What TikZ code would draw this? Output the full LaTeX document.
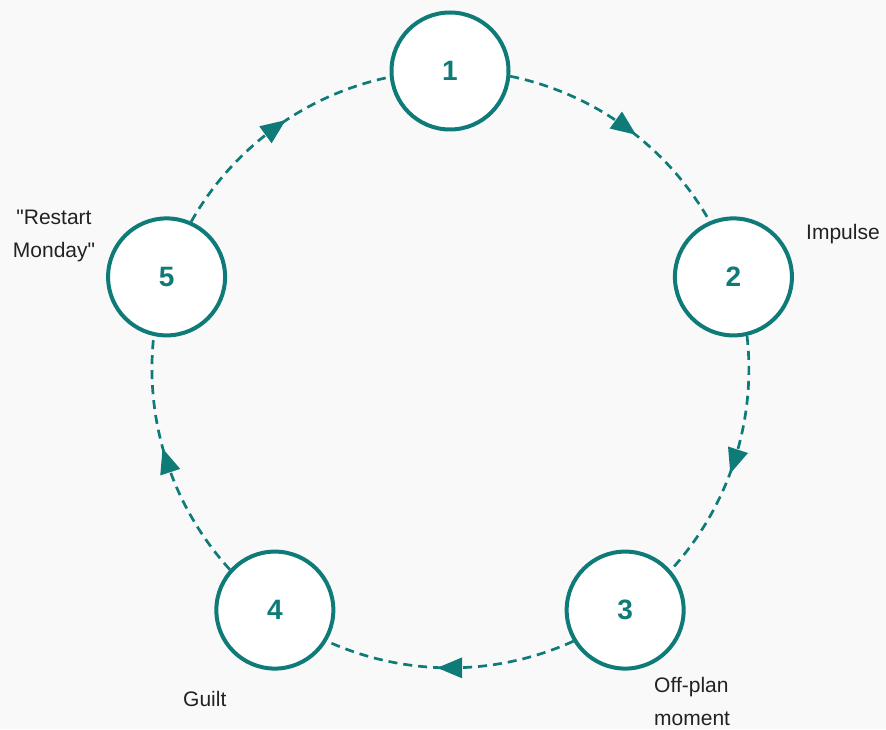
\documentclass[tikz,border=0pt]{standalone}
\usepackage{fontspec}
\setmainfont{Liberation Sans}
\newfontfamily\qfont{Liberation Sans}[Ligatures=TeXReset]
\usetikzlibrary{decorations.markings}
\definecolor{teal1}{HTML}{0F7B78}
\definecolor{bgc}{HTML}{F9F9F9}
\definecolor{txt}{HTML}{222222}
\newcommand{\sq}{{\qfont\symbol{34}}}
\tikzset{
  stage/.style={circle, draw=teal1, line width=4pt, fill=white, minimum size=117pt, inner sep=0pt,
    font=\fontsize{28}{30}\selectfont\bfseries, text=teal1},
  lbl/.style={inner sep=0pt, font=\fontsize{21}{33}\selectfont, text=txt},
  flow/.style={draw=teal1, line width=2.7pt, dash pattern=on 9pt off 6pt,
    postaction={decorate, decoration={markings, mark=at position 0.5 with {\fill[teal1] (13pt,0pt) -- (-12pt,10.5pt) -- (-12pt,-10.5pt) -- cycle;}}}}
}
\begin{document}
\begin{tikzpicture}[x=1pt,y=1pt]
\fill[bgc] (0,0) rectangle (886,729);
\useasboundingbox (0,0) rectangle (886,729);
\coordinate (c) at (450,360);
\node[stage] (n1) at ([shift={(90:298)}]c) {1};
\node[stage] (n2) at ([shift={(18:298)}]c) {2};
\node[stage] (n3) at ([shift={(-54:298)}]c) {3};
\node[stage] (n4) at ([shift={(-126:298)}]c) {4};
\node[stage] (n5) at ([shift={(162:298)}]c) {5};
% arcs of the ring (radius 298) between node borders, gap angle 11.6 deg
\path[flow] (n1.-5.8) arc[start angle=78.4, end angle=29.6, radius=298];
\path[flow] (n2.-77.8) arc[start angle=6.4, end angle=-42.4, radius=298];
\path[flow] (n3.-149.8) arc[start angle=-65.6, end angle=-114.4, radius=298];
\path[flow] (n4.138.2) arc[start angle=-137.6, end angle=-186.4, radius=298];
\path[flow] (n5.66.2) arc[start angle=150.4, end angle=101.6, radius=298];
\node[lbl, anchor=west] (l2) at (806,495) {Impulse};
\node[lbl, align=left, anchor=west] (l3) at (654,28) {Off-plan\\moment};
\node[lbl, anchor=west] (l4) at (183,30) {Guilt};
\node[lbl, align=center] (l5) at (54,493) {\sq Restart\\Monday\sq};
\end{tikzpicture}
\end{document}
